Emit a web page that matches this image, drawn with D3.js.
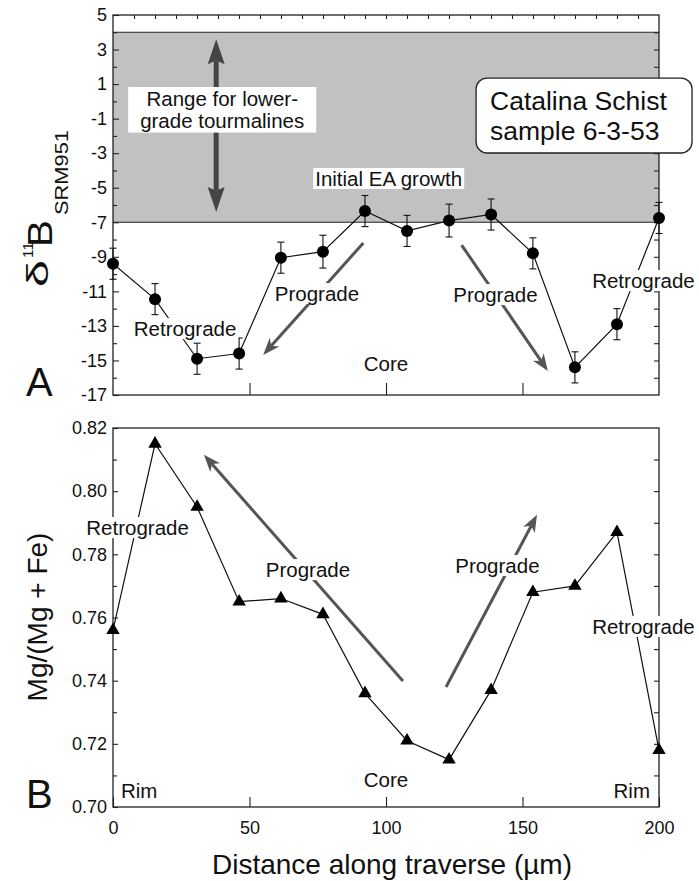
<!DOCTYPE html>
<html>
<head>
    <meta charset="utf-8">
    <style>
        body { margin: 0; background: #fff; }
        svg { display: block; font-family: 'Liberation Sans', Arial, Helvetica, sans-serif; }
    </style>
</head>
<body>
    <svg width="699" height="881"></svg>

<script src="https://d3js.org/d3.v7.min.js"></script>
<script>
    // distance along traverse (µm) for each analysis spot
    const distance = [0, 15.4, 30.8, 46.2, 61.5, 76.9, 92.3, 107.7, 123.1, 138.5, 153.8, 169.2, 184.6, 200];
    // panel A: delta 11B (SRM951) with error bars
    const d11B = [-9.4, -11.45, -14.9, -14.6, -9.05, -8.7, -6.35, -7.5, -6.9, -6.55, -8.8, -15.4, -12.9, -6.75];
    const d11BErr = [0.9, 0.9, 0.9, 0.9, 0.9, 0.95, 0.9, 0.9, 0.95, 0.9, 0.9, 0.9, 0.9, 0.9];
    // panel B: Mg/(Mg+Fe)
    const mgRatio = [0.756, 0.815, 0.795, 0.765, 0.766, 0.761, 0.736, 0.721, 0.715, 0.737, 0.768, 0.770, 0.787, 0.718];

    const bandRange = [-7, 4];   // range for lower-grade tourmalines
    const yTicksA = d3.range(-17, 6, 2);
    const yTicksB = [0.70, 0.72, 0.74, 0.76, 0.78, 0.80, 0.82];
    const xTicks = [0, 50, 100, 150, 200];

    let svg = d3.select("svg");
    let dark = "#222";

    let x = d3.scaleLinear().domain([0, 200]).range([113, 659]);
    let yA = d3.scaleLinear().domain([-17, 5]).range([395, 15]);
    let yB = d3.scaleLinear().domain([0.70, 0.82]).range([807, 428]);

    // ---------- helpers ----------
    function arrow(g, x1, y1, x2, y2, o) {
        let L = Math.hypot(x2 - x1, y2 - y1);
        let ux = (x2 - x1) / L, uy = (y2 - y1) / L;
        let px = -uy, py = ux;
        let head = (tx, ty, dx, dy) => {
            let bx = tx - dx * o.len, by = ty - dy * o.len;
            let nx = tx - dx * o.len * o.notch, ny = ty - dy * o.len * o.notch;
            return `M${tx},${ty}L${bx + px * o.wid / 2},${by + py * o.wid / 2}L${nx},${ny}L${bx - px * o.wid / 2},${by - py * o.wid / 2}Z`;
        };
        let s = o.both ? o.len * o.notch : 0;
        g.append("line")
            .attr("x1", x1 + ux * s).attr("y1", y1 + uy * s)
            .attr("x2", x2 - ux * o.len * o.notch).attr("y2", y2 - uy * o.len * o.notch)
            .style("stroke", o.color).style("stroke-width", o.w);
        g.append("path").attr("d", head(x2, y2, ux, uy)).style("fill", o.color);
        if (o.both) g.append("path").attr("d", head(x1, y1, -ux, -uy)).style("fill", o.color);
    }

    function label(g, tx, ty, txt, size, anchor, bg) {
        let t = g.append("text")
            .attr("x", tx).attr("y", ty)
            .attr("text-anchor", anchor || "middle")
            .style("font-size", size + "px")
            .style("fill", "#111")
            .text(txt);
        if (bg) {
            let b = t.node().getBBox();
            g.insert("rect", () => t.node())
                .attr("x", b.x - 2).attr("y", b.y + 1)
                .attr("width", b.width + 4).attr("height", b.height - 2)
                .style("fill", "#fff");
        }
        return t;
    }

    function frame(g, yScale) {
        g.append("rect")
            .attr("x", x.range()[0]).attr("y", yScale.range()[1])
            .attr("width", x.range()[1] - x.range()[0])
            .attr("height", yScale.range()[0] - yScale.range()[1])
            .style("fill", "none").style("stroke", dark).style("stroke-width", 1.3);
    }

    function styleAxis(sel, size) {
        sel.select(".domain").remove();
        sel.selectAll("line").style("stroke", dark).style("stroke-width", 1.1);
        sel.selectAll("text").style("font-size", size + "px").style("fill", "#111")
            .style("font-family", "'Liberation Sans', Arial, sans-serif");
    }

    let arrowSmall = { w: 3, len: 17, wid: 13, notch: 0.72, color: "#555" };

    // =============== PANEL A ===============
    let gA = svg.append("g");

    gA.append("rect")
        .attr("x", x(0)).attr("width", x(200) - x(0))
        .attr("y", yA(bandRange[1])).attr("height", yA(bandRange[0]) - yA(bandRange[1]))
        .style("fill", "#c1c1c1");
    bandRange.forEach(v => {
        gA.append("line").attr("x1", x(0)).attr("x2", x(200))
            .attr("y1", yA(v)).attr("y2", yA(v))
            .style("stroke", dark).style("stroke-width", 1.2);
    });

    // axes
    gA.append("g").attr("transform", `translate(${x(0)},0)`)
        .call(d3.axisLeft(yA).tickValues(yTicksA).tickSize(-6).tickPadding(6).tickFormat(d => String(d)))
        .call(styleAxis, 18);
    gA.append("g").attr("transform", `translate(${x(0)},0)`)
        .call(d3.axisLeft(yA).tickValues(d3.range(-16, 5, 2)).tickSize(-4).tickFormat(""))
        .call(styleAxis, 18);
    gA.append("g").attr("transform", `translate(${x(200)},0)`)
        .call(d3.axisRight(yA).tickValues(d3.range(-16, 5)).tickSize(-5).tickFormat(""))
        .call(styleAxis, 18);
    gA.append("g").attr("transform", `translate(0,${yA(5)})`)
        .call(d3.axisTop(x).tickValues(d3.range(1, 26).map(i => i * 200 / 26)).tickSize(-4).tickFormat(""))
        .call(styleAxis, 18);
    gA.append("g").attr("transform", `translate(0,${yA(-17)})`)
        .call(d3.axisBottom(x).tickValues([50, 100, 150]).tickSize(-12).tickFormat(""))
        .call(styleAxis, 18);
    frame(gA, yA);

    // range arrow + box
    arrow(gA, x(37.8), yA(3.6), x(37.8), yA(-6.4), { w: 5, len: 25, wid: 17, notch: 0.85, color: "#444", both: true });
    let rg = gA.append("g");
    let r1 = label(rg, x(40), yA(-0.27), "Range for lower-", 20.5);
    let r2 = label(rg, x(40), yA(-1.52), "grade tourmalines", 20.5);
    let rb1 = r1.node().getBBox(), rb2 = r2.node().getBBox();
    let bx0 = Math.min(rb1.x, rb2.x) - 12, bx1 = Math.max(rb1.x + rb1.width, rb2.x + rb2.width) + 12;
    rg.insert("rect", "text")
        .attr("x", bx0).attr("y", rb1.y - 0)
        .attr("width", bx1 - bx0).attr("height", rb2.y + rb2.height - rb1.y + 1)
        .style("fill", "#fff");

    label(gA, x(101), yA(-4.9), "Initial EA growth", 20.5, "middle", true);

    // data
    let ptsA = distance.map((d, i) => ({ d: d, v: d11B[i], e: d11BErr[i] }));
    gA.append("path").datum(ptsA)
        .attr("d", d3.line().x(p => x(p.d)).y(p => yA(p.v)))
        .style("fill", "none").style("stroke", "#111").style("stroke-width", 1.2);
    let eb = gA.append("g").selectAll("g").data(ptsA).join("g")
        .style("stroke", "#111").style("stroke-width", 1.1);
    eb.append("line").attr("x1", p => x(p.d)).attr("x2", p => x(p.d))
        .attr("y1", p => yA(p.v + p.e)).attr("y2", p => yA(p.v - p.e));
    [1, -1].forEach(s => {
        eb.append("line").attr("x1", p => x(p.d) - 3.5).attr("x2", p => x(p.d) + 3.5)
            .attr("y1", p => yA(p.v + s * p.e)).attr("y2", p => yA(p.v + s * p.e));
    });
    gA.append("g").selectAll("circle").data(ptsA).join("circle")
        .attr("cx", p => x(p.d)).attr("cy", p => yA(p.v)).attr("r", 6)
        .style("fill", "#000");

    arrow(gA, x(91.7), yA(-8.2), x(55), yA(-14.68), arrowSmall);
    arrow(gA, x(127.7), yA(-8.32), x(159.3), yA(-15.61), arrowSmall);

    label(gA, x(74.7), yA(-11.56), "Prograde", 20.5, "middle", true);
    label(gA, x(140.1), yA(-11.62), "Prograde", 20.5, "middle", true);
    label(gA, x(26.4), yA(-13.59), "Retrograde", 20.5, "middle", true);
    label(gA, x(194.3), yA(-10.81), "Retrograde", 20.5, "middle", true);
    label(gA, x(100), yA(-15.61), "Core", 20.5, "middle", false);

    // sample box
    gA.append("rect")
        .attr("x", x(133)).attr("y", yA(1.35))
        .attr("width", x(212.1) - x(133)).attr("height", yA(-2.99) - yA(1.35))
        .attr("rx", 11)
        .style("fill", "#fff").style("stroke", dark).style("stroke-width", 1.3);
    label(gA, x(138.1), yA(-0.5), "Catalina Schist", 26.5, "start");
    label(gA, x(138.1), yA(-2.24), "sample 6-3-53", 26.5, "start");

    label(gA, 26, 396, "A", 40, "start");

    // y label: δ11B SRM951
    let yl = [
        { t: "δ", px: 48, py: 287, fs: 30, len: 27 },
        { t: "11", px: 33, py: 258, fs: 14, len: 16 },
        { t: "B", px: 52, py: 247, fs: 35, len: 27 },
        { t: "SRM951", px: 68, py: 215, fs: 19, len: 85 }
    ];
    svg.append("g").selectAll("text").data(yl).join("text")
        .attr("transform", d => `translate(${d.px},${d.py}) rotate(-90)`)
        .attr("textLength", d => d.len)
        .attr("lengthAdjust", "spacingAndGlyphs")
        .style("font-size", d => d.fs + "px")
        .style("fill", "#111")
        .text(d => d.t);

    // =============== PANEL B ===============
    let gB = svg.append("g");

    gB.append("g").attr("transform", `translate(${x(0)},0)`)
        .call(d3.axisLeft(yB).tickValues(yTicksB).tickSize(-5).tickPadding(6).tickFormat(d3.format(".2f")))
        .call(styleAxis, 18);
    gB.append("g").attr("transform", `translate(${x(0)},0)`)
        .call(d3.axisLeft(yB).tickValues(d3.range(0.71, 0.82, 0.02)).tickSize(-4).tickFormat(""))
        .call(styleAxis, 18);
    gB.append("g").attr("transform", `translate(${x(200)},0)`)
        .call(d3.axisRight(yB).tickValues(d3.range(0.71, 0.815, 0.01)).tickSize(-5).tickFormat(""))
        .call(styleAxis, 18);
    gB.append("g").attr("transform", `translate(0,${yB(0.70)})`)
        .call(d3.axisBottom(x).tickValues(xTicks).tickSize(-10).tickPadding(14))
        .call(styleAxis, 18);
    frame(gB, yB);

    let ptsB = distance.map((d, i) => ({ d: d, v: mgRatio[i] }));
    gB.append("path").datum(ptsB)
        .attr("d", d3.line().x(p => x(p.d)).y(p => yB(p.v)))
        .style("fill", "none").style("stroke", "#111").style("stroke-width", 1.2);
    gB.append("g").selectAll("path").data(ptsB).join("path")
        .attr("transform", p => `translate(${x(p.d)},${yB(p.v)})`)
        .attr("d", d3.symbol(d3.symbolTriangle, 78))
        .style("fill", "#000");

    arrow(gB, x(106.2), yB(0.7399), x(33.3), yB(0.8115), arrowSmall);
    arrow(gB, x(122), yB(0.738), x(155.3), yB(0.7925), arrowSmall);

    label(gB, x(9), yB(0.7861), "Retrograde", 20.5, "middle", true);
    label(gB, x(71.4), yB(0.7728), "Prograde", 20.5, "middle", true);
    label(gB, x(140.8), yB(0.7741), "Prograde", 20.5, "middle", true);
    label(gB, x(194.3), yB(0.7548), "Retrograde", 20.5, "middle", true);
    label(gB, x(100), yB(0.7063), "Core", 20.5, "middle");
    label(gB, x(2.9), yB(0.7028), "Rim", 20.5, "start");
    label(gB, x(196.7), yB(0.7028), "Rim", 20.5, "end");

    label(gB, 26, 808, "B", 40, "start");

    svg.append("text")
        .attr("transform", `translate(47,617) rotate(-90)`)
        .attr("text-anchor", "middle")
        .style("font-size", "28px").style("fill", "#111")
        .text("Mg/(Mg + Fe)");

    svg.append("text")
        .attr("x", 392).attr("y", 874)
        .attr("text-anchor", "middle")
        .style("font-size", "28px").style("fill", "#111")
        .text("Distance along traverse (µm)");
</script>
</body>
</html>
